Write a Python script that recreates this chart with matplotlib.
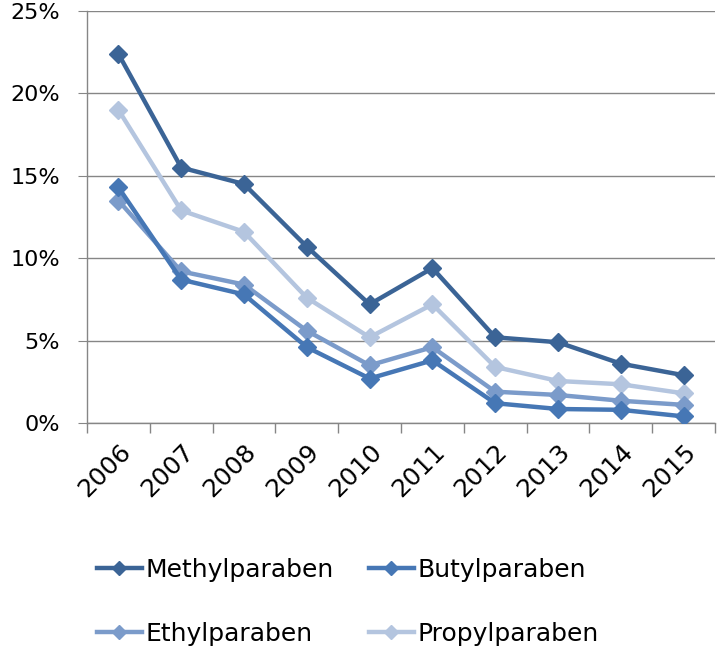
import matplotlib
matplotlib.use("Agg")
import matplotlib.pyplot as plt
from matplotlib.ticker import FixedLocator, PercentFormatter

years = ["2006", "2007", "2008", "2009", "2010", "2011", "2012", "2013", "2014", "2015"]
methyl = [22.4, 15.5, 14.5, 10.7, 7.2, 9.4, 5.2, 4.9, 3.6, 2.9]
butyl = [14.3, 8.7, 7.8, 4.6, 2.7, 3.8, 1.2, 0.85, 0.8, 0.4]
ethyl = [13.5, 9.2, 8.4, 5.6, 3.5, 4.6, 1.9, 1.7, 1.35, 1.1]
propyl = [19.0, 12.9, 11.6, 7.6, 5.2, 7.2, 3.4, 2.55, 2.35, 1.8]

series = [
    ("Methylparaben", methyl, "#3B6496"),
    ("Butylparaben", butyl, "#4677B5"),
    ("Ethylparaben", ethyl, "#7B9BCA"),
    ("Propylparaben", propyl, "#B4C5DF"),
]

plt.rcParams['font.family'] = ['DejaVu Sans']

fig = plt.figure(figsize=(7.2, 6.47), dpi=100)
ax = fig.add_axes([87/720, 1 - 423/647, (715-87)/720, (423-11)/647])

x = list(range(len(years)))
order = [3, 2, 1, 0]
lines = {}
for i in order:
    name, vals, col = series[i]
    ln, = ax.plot(x, vals, color=col, lw=3.2, marker='D', ms=9.5, label=name, zorder=3 + (3 - i))
    lines[name] = ln

ax.set_xlim(-0.5, len(years) - 0.5)
ax.set_ylim(0, 25)
ax.set_yticks([0, 5, 10, 15, 20, 25])
ax.yaxis.set_major_formatter(PercentFormatter(decimals=0))
ax.set_xticks(x)
ax.set_xticklabels(years, rotation=45, ha='right', rotation_mode='anchor')
ax.xaxis.set_minor_locator(FixedLocator([i - 0.5 for i in range(len(years) + 1)]))
ax.tick_params(axis='x', which='major', length=0, labelsize=18, pad=12)
ax.tick_params(axis='x', which='minor', length=7, color='#868686', width=1)
ax.tick_params(axis='y', length=6.5, color='#868686', labelsize=16, pad=13)
ax.grid(axis='y', color='#868686', lw=1)
ax.set_axisbelow(True)
for s in ['top', 'right']:
    ax.spines[s].set_visible(False)
for s in ['left', 'bottom']:
    ax.spines[s].set_color('#868686')
    ax.spines[s].set_linewidth(1)

handles = [lines[n] for n in ["Methylparaben", "Ethylparaben", "Butylparaben", "Propylparaben"]]
leg = fig.legend(handles, [h.get_label() for h in handles], ncol=2, loc='upper left',
                 bbox_to_anchor=(84/720, 1 - 545/647), frameon=False, fontsize=18,
                 handlelength=1.8, handletextpad=0.15, columnspacing=1.4, labelspacing=1.6,
                 borderpad=0, markerscale=0.75)

fig.savefig("out.png", dpi=100)
